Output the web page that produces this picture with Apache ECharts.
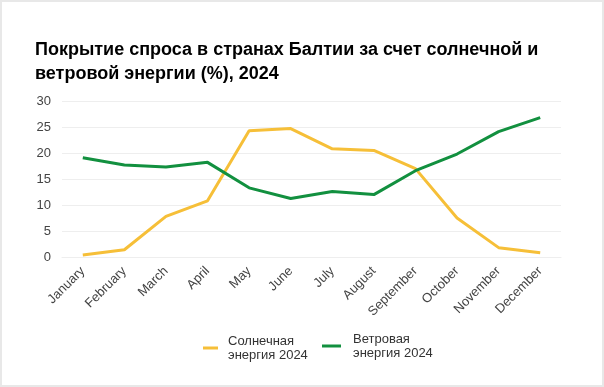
<!DOCTYPE html>
<html><head><meta charset="utf-8">
<script src="https://cdn.jsdelivr.net/npm/echarts@6/dist/echarts.min.js"></script>
<style>
html,body{margin:0;padding:0;background:#fff;}
#c{width:604px;height:387px;box-sizing:border-box;border:2px solid #e8e8e8;}
</style></head>
<body><div id="c"></div>
<script>
const months = ['January','February','March','April','May','June','July','August','September','October','November','December'];
const solar = [0.4, 1.4, 7.8, 10.8, 24.3, 24.7, 20.8, 20.5, 17.0, 7.5, 1.8, 0.8];
const wind = [19.1, 17.7, 17.3, 18.2, 13.3, 11.25, 12.6, 12.0, 16.6, 19.8, 24.1, 26.8];
const seriesNames = ['Солнечная\nэнергия 2024', 'Ветровая\nэнергия 2024'];
const titleText = 'Покрытие спроса в странах Балтии за счет солнечной и\nветровой энергии (%), 2024';

const chart = echarts.init(document.getElementById('c'), null, {renderer:'canvas'});
const font = "'Liberation Sans', Arial, sans-serif";
chart.setOption({
  animation:false,
  textStyle:{fontFamily:font},
  title:{text:titleText,left:28,top:31,textStyle:{fontFamily:font,fontSize:18,fontWeight:'bold',color:'#000',lineHeight:24}},
  legend:[
    {data:[seriesNames[0]],left:201,top:332,padding:0,icon:'rect',itemWidth:15,itemHeight:3,
     textStyle:{fontFamily:font,fontSize:13,color:'#333',lineHeight:14,padding:[0,0,0,5]}},
    {data:[seriesNames[1]],left:320,top:330,padding:0,icon:'rect',itemWidth:19,itemHeight:3,
     textStyle:{fontFamily:font,fontSize:13,color:'#333',lineHeight:14,padding:[0,0,0,7]}}
  ],
  grid:{left:60,right:41,top:99,bottom:128},
  xAxis:{
    type:'category',data:months,boundaryGap:true,
    axisLine:{show:true,lineStyle:{color:'#eeeeee'}},axisTick:{show:false},
    axisLabel:{rotate:45,fontSize:13,color:'#444',fontFamily:font,margin:12,interval:0}
  },
  yAxis:{
    type:'value',min:0,max:30,interval:5,
    axisLine:{show:false},axisTick:{show:false},
    axisLabel:{fontSize:13,color:'#444',fontFamily:font,margin:11},
    splitLine:{lineStyle:{color:'#eeeeee'}}
  },
  series:[
    {name:seriesNames[0],type:'line',data:solar,showSymbol:false,symbol:'none',lineStyle:{width:3,color:'#f6bf38'},itemStyle:{color:'#f6bf38'}},
    {name:seriesNames[1],type:'line',data:wind,showSymbol:false,symbol:'none',lineStyle:{width:3,color:'#12903f'},itemStyle:{color:'#12903f'}}
  ]
});
</script></body></html>
